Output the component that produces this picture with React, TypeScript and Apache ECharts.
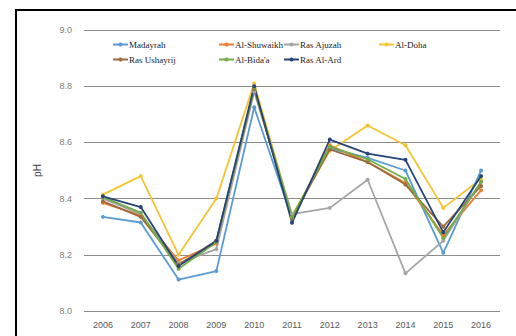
import React, { useEffect, useRef } from "react";
import * as echarts from "echarts";

const years = ["2006", "2007", "2008", "2009", "2010", "2011", "2012", "2013", "2014", "2015", "2016"];
const yTicks = [8.0, 8.2, 8.4, 8.6, 8.8, 9.0];

const madayrah = [8.335, 8.315, 8.112, 8.142, 8.725, 8.33, 8.58, 8.545, 8.5, 8.207, 8.5];
const alShuwaikh = [8.385, 8.34, 8.18, 8.24, 8.79, 8.33, 8.59, 8.53, 8.455, 8.27, 8.43];
const rasAjuzah = [8.4, 8.345, 8.17, 8.22, 8.78, 8.345, 8.367, 8.467, 8.134, 8.25, 8.46];
const alDoha = [8.414, 8.48, 8.2, 8.4, 8.81, 8.34, 8.57, 8.66, 8.59, 8.367, 8.47];
const rasUshayrij = [8.39, 8.335, 8.165, 8.25, 8.79, 8.33, 8.575, 8.53, 8.45, 8.3, 8.445];
const alBidaa = [8.405, 8.35, 8.15, 8.245, 8.795, 8.335, 8.585, 8.54, 8.47, 8.26, 8.46];
const rasAlArd = [8.408, 8.37, 8.16, 8.25, 8.8, 8.314, 8.61, 8.56, 8.538, 8.28, 8.48];

const seriesNames = ["Madayrah", "Al-Shuwaikh", "Ras Ajuzah", "Al-Doha", "Ras Ushayrij", "Al-Bida'a", "Ras Al-Ard"];
const seriesData = [madayrah, alShuwaikh, rasAjuzah, alDoha, rasUshayrij, alBidaa, rasAlArd];
const colors = ["#5B9BD5", "#ED7D31", "#A5A5A5", "#F5C431", "#9E6B3E", "#70AD47", "#264478"];

const legendPos = [
  [112, 40], [218, 40], [283, 40], [378, 40],
  [112, 55], [218, 55], [283, 55],
];

export default function App() {
  const ref = useRef<HTMLDivElement>(null);
  useEffect(() => {
    if (!ref.current) return;
    const chart = echarts.init(ref.current, undefined, { renderer: "svg" });
    chart.setOption({
      animation: false,
      backgroundColor: "#ffffff",
      grid: { left: 84, right: 16, top: 30, bottom: 25 },
      legend: seriesNames.map((n, i) => ({
        data: [n],
        left: legendPos[i][0],
        top: legendPos[i][1],
        itemWidth: 15,
        itemHeight: 5,
        itemGap: 2,
        padding: 0,
        textStyle: { fontFamily: "Liberation Serif", fontSize: 9, color: "#222", padding: [0, 0, 0, -4] },
      })),
      xAxis: {
        type: "category",
        data: years,
        boundaryGap: true,
        axisLine: { show: false },
        axisTick: { show: false },
        axisLabel: { color: "#595959", fontSize: 9, fontFamily: "Liberation Sans", margin: 9 },
      },
      yAxis: {
        type: "value",
        min: yTicks[0],
        max: yTicks[yTicks.length - 1],
        interval: 0.2,
        name: "pH",
        nameLocation: "middle",
        nameRotate: 90,
        nameGap: 42,
        nameTextStyle: { color: "#404040", fontSize: 10, fontFamily: "Liberation Sans" },
        axisLine: { show: false },
        axisTick: { show: false },
        splitLine: { lineStyle: { color: "#8c8c8c", width: 1 } },
        axisLabel: {
          color: "#7f7f7f",
          fontSize: 9,
          fontFamily: "Liberation Sans",
          margin: 12,
          formatter: (v: number) => v.toFixed(1),
        },
      },
      graphic: [
        {
          type: "rect",
          shape: { x: 16, y: 10, width: 520, height: 340 },
          style: { fill: "none", stroke: "#000", lineWidth: 2 },
          silent: true,
        },
      ],
      series: seriesNames.map((n, i) => ({
        name: n,
        type: "line",
        data: seriesData[i],
        symbol: "circle",
        symbolSize: 4,
        lineStyle: { width: 1.8, color: colors[i] },
        itemStyle: { color: colors[i] },
        z: i === 3 ? 1 : 2,
      })),
    });
    return () => chart.dispose();
  }, []);
  return (
    <div
      ref={ref}
      style={{ position: "absolute", left: 0, top: 0, width: 516, height: 336 }}
    />
  );
}
